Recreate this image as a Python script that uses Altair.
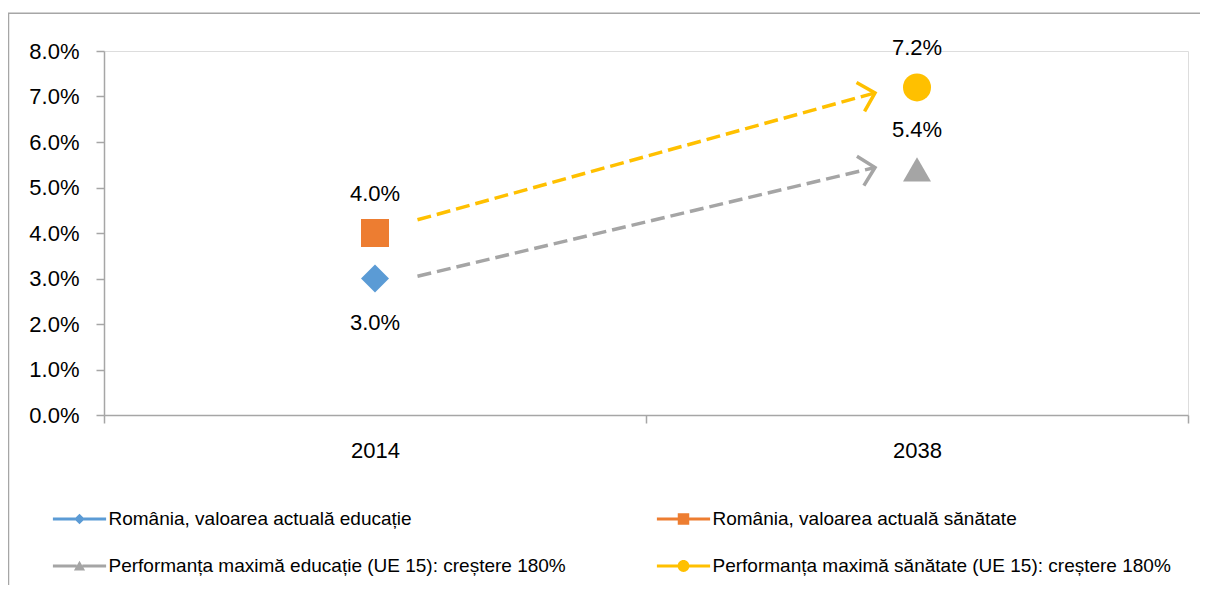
import altair as alt
import pandas as pd

# ---- data ----
years = ["2014", "2038"]
series = [
    "România, valoarea actuală educație",
    "România, valoarea actuală sănătate",
    "Performanța maximă educație (UE 15): creștere 180%",
    "Performanța maximă sănătate (UE 15): creștere 180%",
]
point_year = ["2014", "2014", "2038", "2038"]
point_value = [0.030, 0.040, 0.054, 0.072]
label_side = ["below", "above", "above", "above"]

y_ticks = [0.0, 0.01, 0.02, 0.03, 0.04, 0.05, 0.06, 0.07, 0.08]

arrow_names = ["sănătate", "educație"]
arrow_from = ["2014", "2014"]
arrow_to = ["2038", "2038"]
arrow_start = [0.0429, 0.0305]
arrow_end = [0.0708, 0.0544]

# ---- styles ----
palette = ["#5B9BD5", "#ED7D31", "#A5A5A5", "#FFC000"]
marker_shapes = ["diamond", "square", "triangle-up", "circle"]
arrow_colors = {"sănătate": "#FFC000", "educație": "#A5A5A5"}
arrow_angles = {"sănătate": 344.5, "educație": 346.6}

_line = "M-1.9,-0.11L-0.2,-0.11L-0.2,0.11L-1.9,0.11ZM0.2,-0.11L1.9,-0.11L1.9,0.11L0.2,0.11Z"
legend_paths = [
    _line + "M0,-0.38L0.38,0L0,0.38L-0.38,0Z",
    _line + "M-0.41,-0.41L0.41,-0.41L0.41,0.41L-0.41,0.41Z",
    _line + "M0,-0.38L0.4,0.32L-0.4,0.32Z",
    _line + "M0.42,0A0.42,0.42,0,1,1,-0.42,0A0.42,0.42,0,1,1,0.42,0Z",
]
chevron = "M-1,-1L0,0L-1,1"

# legend grid fills column by column: order entries so rows read as in the original
legend_order = [0, 2, 1, 3]
leg_domain = [series[i] for i in legend_order]
leg_colors = [palette[i] for i in legend_order]
leg_paths = [legend_paths[i] for i in legend_order]

FONT = "Liberation Sans"
AXIS_GREY = "#a6a6a6"

points = pd.DataFrame({"year": point_year, "value": point_value,
                       "series": series, "side": label_side})
arrows = pd.DataFrame({"name": arrow_names, "from": arrow_from, "to": arrow_to,
                       "start": arrow_start, "end": arrow_end})

x_scale = alt.Scale(type="band", domain=years, paddingInner=0, paddingOuter=0)
y_scale = alt.Scale(domain=[0, 0.08], nice=False, zero=True)

x_axis = alt.Axis(title=None, labelAngle=0, tickBand="extent", labelFont=FONT,
                  labelFontSize=22, labelColor="#000000", labelPadding=17,
                  tickSize=8, tickColor=AXIS_GREY, tickWidth=1.5,
                  domainColor=AXIS_GREY, domainWidth=1.5, grid=False)
y_axis = alt.Axis(title=None, format=".1%", values=y_ticks, labelFont=FONT,
                  labelFontSize=22, labelColor="#000000", labelPadding=17,
                  tickSize=8, tickColor=AXIS_GREY, tickWidth=1.5,
                  domainColor=AXIS_GREY, domainWidth=1.5, grid=False,
                  labelFlush=False, labelOverlap=False)

X = alt.X("year:N", scale=x_scale, axis=x_axis, bandPosition=0.5)
Y = alt.Y("value:Q", scale=y_scale, axis=y_axis)

base = alt.Chart(points)

# outer chart-area frame
frame = alt.Chart(alt.Data(values=[{"k": 1}])).mark_rect(
    fill="transparent", stroke="#a6a6a6", strokeWidth=1.5
).encode(x=alt.value(-95.5), x2=alt.value(1130), y=alt.value(-37.7), y2=alt.value(600))

layers = [frame]

# arrows (dashed lines + open arrowheads)
for name in arrow_names:
    a = alt.Chart(arrows).transform_filter(alt.datum.name == name)
    col = arrow_colors[name]
    layers.append(
        a.mark_rule(color=col, strokeWidth=3.5, strokeDash=[14, 6], xOffset=42.5, x2Offset=-42).encode(
            x=alt.X("from:N", scale=x_scale, axis=x_axis, bandPosition=0.5),
            x2=alt.X2("to:N", bandPosition=0.5),
            y=alt.Y("start:Q", scale=y_scale, axis=y_axis),
            y2="end:Q",
        )
    )
    layers.append(
        a.mark_point(shape=chevron, filled=False, size=900, strokeWidth=3.5, color=col,
                     opacity=1, angle=arrow_angles[name], xOffset=-42).encode(
            x=alt.X("to:N", scale=x_scale, axis=x_axis, bandPosition=0.5),
            y=alt.Y("end:Q", scale=y_scale, axis=y_axis),
        )
    )

markers = base.mark_point(filled=True, size=784, opacity=1).encode(
    x=X, y=Y,
    color=alt.Color("series:N", scale=alt.Scale(domain=series, range=palette), legend=None),
    shape=alt.Shape("series:N", scale=alt.Scale(domain=series, range=marker_shapes), legend=None),
)

leg = alt.Legend(title=None, orient="none", legendX=-38.5, legendY=454, columns=2,
                 columnPadding=90, rowPadding=23, padding=0, symbolSize=784,
                 symbolStrokeWidth=0, symbolOpacity=1, labelFont=FONT, labelFontSize=19,
                 labelColor="#000000", labelOffset=15, labelLimit=900)

legend_layer = base.mark_point(filled=True, opacity=0).encode(
    x=X, y=Y,
    color=alt.Color("series:N", scale=alt.Scale(domain=leg_domain, range=leg_colors), legend=leg),
    shape=alt.Shape("series:N", scale=alt.Scale(domain=leg_domain, range=leg_paths), legend=leg),
)

labels_above = base.transform_filter(alt.datum.side == "above").mark_text(
    font=FONT, fontSize=22, color="#000000", baseline="middle", dy=-39
).encode(x=X, y=Y, text=alt.Text("value:Q", format=".1%"))

labels_below = base.transform_filter(alt.datum.side == "below").mark_text(
    font=FONT, fontSize=22, color="#000000", baseline="middle", dy=44
).encode(x=X, y=Y, text=alt.Text("value:Q", format=".1%"))

layers += [markers, legend_layer, labels_above, labels_below]

chart = alt.layer(*layers).resolve_scale(
    color="independent", shape="independent"
).properties(
    width=1084, height=364,
    autosize=alt.AutoSizeParams(type="none"),
    padding={"left": 96, "top": 43, "right": 12, "bottom": 170},
).configure_view(stroke=None).configure(background="white")

chart.save("out.html", embed_options={"renderer": "svg", "actions": False})
